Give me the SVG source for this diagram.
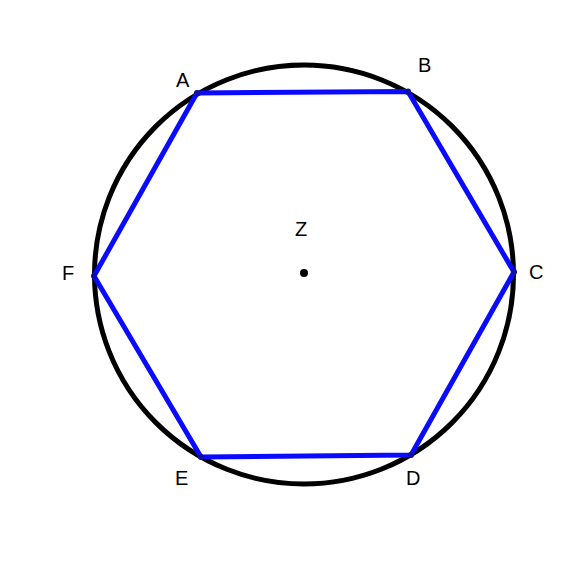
<svg xmlns="http://www.w3.org/2000/svg" width="568" height="584" viewBox="0 0 568 584">
<style>
.lbl{font-family:"Liberation Sans",Arial,sans-serif;font-size:20px;fill:#000}
.pt{fill:#1010a0}
</style>
<rect width="568" height="584" fill="#fff"/>
<g id="connectors">
<circle id="circle" cx="304" cy="274.5" r="209.5" fill="none" stroke="#000" stroke-width="5"/>
<polygon id="hexagon" points="197,93 408,91.5 514,272 411,455 201,457 94,276" fill="none" stroke="#0a0aff" stroke-width="5" stroke-linejoin="round"/>
</g>
<g id="A"><circle class="pt" cx="197" cy="93" r="3"/><text class="lbl" x="176" y="87">A</text></g>
<g id="B"><circle class="pt" cx="408" cy="91.5" r="3"/><text class="lbl" x="418" y="72">B</text></g>
<g id="C"><circle class="pt" cx="514" cy="272" r="3"/><text class="lbl" x="529" y="279">C</text></g>
<g id="D"><circle class="pt" cx="411" cy="455" r="3"/><text class="lbl" x="406" y="485">D</text></g>
<g id="E"><circle class="pt" cx="201" cy="457" r="3"/><text class="lbl" x="175" y="485">E</text></g>
<g id="F"><circle class="pt" cx="94" cy="276" r="3"/><text class="lbl" x="62" y="280">F</text></g>
<g id="Z"><circle cx="304" cy="273" r="4" fill="#000"/><text class="lbl" x="295" y="236">Z</text></g>
</svg>
